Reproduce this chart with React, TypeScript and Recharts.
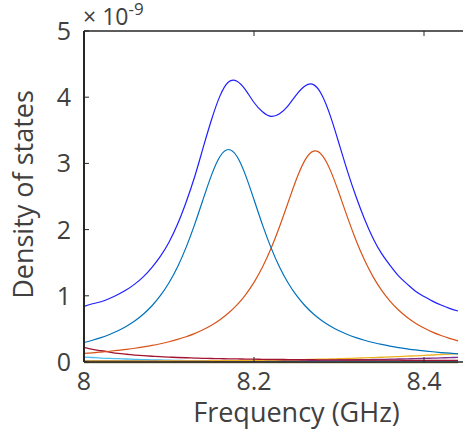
import React from 'react';
import { LineChart, Line, XAxis, YAxis, ReferenceLine } from 'recharts';

const freq = [8.00,8.01,8.02,8.03,8.04,8.05,8.06,8.07,8.08,8.09,8.10,8.11,8.12,8.13,8.14,8.15,8.16,8.17,8.18,8.19,8.20,8.21,8.22,8.23,8.24,8.25,8.26,8.27,8.28,8.29,8.30,8.31,8.32,8.33,8.34,8.35,8.36,8.37,8.38,8.39,8.40,8.41,8.42,8.43,8.44];

const total = [0.84,0.88,0.91,0.96,1.02,1.09,1.18,1.29,1.43,1.60,1.81,2.08,2.41,2.79,3.23,3.66,4.02,4.23,4.24,4.11,3.92,3.78,3.71,3.75,3.87,4.04,4.17,4.19,4.03,3.71,3.30,2.88,2.50,2.16,1.87,1.64,1.46,1.30,1.18,1.07,0.99,0.92,0.86,0.81,0.77];

const mode1 = [0.294,0.328,0.368,0.416,0.472,0.541,0.623,0.725,0.850,1.005,1.198,1.436,1.728,2.072,2.452,2.823,3.104,3.210,3.104,2.823,2.452,2.072,1.728,1.436,1.198,1.005,0.850,0.725,0.623,0.541,0.472,0.416,0.368,0.328,0.294,0.265,0.240,0.218,0.199,0.182,0.168,0.155,0.143,0.133,0.123];

const mode2 = [0.130,0.139,0.150,0.162,0.176,0.191,0.208,0.228,0.250,0.276,0.306,0.341,0.381,0.429,0.487,0.555,0.638,0.739,0.862,1.015,1.202,1.434,1.713,2.042,2.405,2.764,3.050,3.186,3.126,2.891,2.552,2.184,1.839,1.539,1.289,1.085,0.920,0.785,0.676,0.586,0.513,0.451,0.400,0.356,0.319];

const mode3 = [0.22,0.19,0.17,0.15,0.13,0.117,0.105,0.095,0.087,0.08,0.074,0.068,0.064,0.06,0.056,0.053,0.05,0.048,0.046,0.044,0.042,0.041,0.039,0.038,0.037,0.036,0.035,0.034,0.033,0.032,0.031,0.03,0.03,0.029,0.028,0.028,0.027,0.027,0.026,0.026,0.025,0.025,0.024,0.024,0.024];

const mode4 = [0.075,0.068,0.06,0.055,0.05,0.045,0.04,0.036,0.033,0.03,0.027,0.025,0.022,0.021,0.019,0.018,0.017,0.016,0.015,0.015,0.014,0.014,0.013,0.013,0.012,0.012,0.012,0.011,0.011,0.011,0.011,0.011,0.01,0.01,0.01,0.01,0.01,0.01,0.01,0.01,0.01,0.01,0.01,0.01,0.01];

const mode5 = [0.012,0.012,0.012,0.012,0.013,0.013,0.013,0.014,0.014,0.015,0.015,0.016,0.016,0.017,0.018,0.019,0.02,0.021,0.022,0.023,0.025,0.026,0.028,0.03,0.032,0.034,0.037,0.04,0.043,0.046,0.05,0.054,0.058,0.062,0.067,0.072,0.077,0.082,0.088,0.094,0.1,0.106,0.113,0.12,0.127];

const mode6 = [0.008,0.008,0.009,0.009,0.009,0.01,0.01,0.01,0.011,0.011,0.012,0.012,0.013,0.013,0.014,0.014,0.015,0.016,0.016,0.017,0.018,0.019,0.02,0.021,0.022,0.023,0.024,0.026,0.027,0.029,0.03,0.032,0.034,0.036,0.038,0.04,0.042,0.045,0.048,0.051,0.054,0.058,0.062,0.066,0.07];

const mode7 = [0.005,0.005,0.005,0.005,0.005,0.005,0.005,0.005,0.005,0.005,0.005,0.005,0.005,0.005,0.005,0.005,0.005,0.005,0.005,0.005,0.005,0.005,0.005,0.005,0.005,0.005,0.005,0.005,0.005,0.005,0.005,0.005,0.005,0.005,0.005,0.005,0.005,0.005,0.005,0.005,0.005,0.005,0.005,0.005,0.005];

const xTicks = [8, 8.2, 8.4];
const yTicks = [0, 1, 2, 3, 4, 5];

const data = freq.map((f, i) => ({
  f,
  total: total[i],
  m1: mode1[i],
  m2: mode2[i],
  m3: mode3[i],
  m4: mode4[i],
  m5: mode5[i],
  m6: mode6[i],
  m7: mode7[i],
}));

const FONT = '"Open Sans", "Noto Sans", sans-serif';
const TEXT = '#404040';
const AXIS = '#262626';
const PLOT_LEFT = 84;
const PLOT_TOP = 31;
const PLOT_BOTTOM = 362;

const YTick = (props: any) => {
  const { y, payload } = props;
  return (
    <g>
      <line x1={PLOT_LEFT} x2={PLOT_LEFT + 5} y1={y} y2={y} stroke={AXIS} strokeWidth={1} />
      <text x={PLOT_LEFT - 13} y={y} dy={9} textAnchor="end" fill={TEXT} fontSize={25} fontFamily={FONT}>
        {payload.value}
      </text>
    </g>
  );
};

const XTick = (props: any) => {
  const { x, payload } = props;
  return (
    <g>
      <line x1={x} x2={x} y1={PLOT_BOTTOM} y2={PLOT_BOTTOM - 5} stroke={AXIS} strokeWidth={1} />
      <line x1={x} x2={x} y1={PLOT_TOP} y2={PLOT_TOP + 5} stroke={AXIS} strokeWidth={1} />
      <text x={x} y={PLOT_BOTTOM + 28} textAnchor="middle" fill={TEXT} fontSize={25} fontFamily={FONT}>
        {payload.value}
      </text>
    </g>
  );
};

const YLabel = (props: any) => {
  const vb = props.viewBox || { x: 0, y: PLOT_TOP, width: PLOT_LEFT, height: PLOT_BOTTOM - PLOT_TOP };
  const cy = vb.y + vb.height / 2 - 2;
  const cx = 33;
  return (
    <text x={cx} y={cy} transform={`rotate(-90 ${cx} ${cy})`} textAnchor="middle" fill={TEXT} fontSize={27} fontFamily={FONT}>
      Density of states
    </text>
  );
};

const XLabel = (props: any) => {
  const vb = props.viewBox || { x: PLOT_LEFT, y: PLOT_BOTTOM, width: 425, height: 72 };
  const cx = vb.x + vb.width / 2;
  return (
    <text x={cx} y={PLOT_BOTTOM + 60} textAnchor="middle" fill={TEXT} fontSize={27} fontFamily={FONT}>
      Frequency (GHz)
    </text>
  );
};

export default function App() {
  return (
    <div style={{ position: 'absolute', left: 0, top: 0, width: 463, height: 434, overflow: 'hidden', background: '#fff' }}>
      <LineChart width={520} height={434} data={data} margin={{ top: PLOT_TOP, right: 11, bottom: 0, left: 0 }}>
        <XAxis
          dataKey="f"
          type="number"
          domain={[8, 8.5]}
          ticks={xTicks}
          allowDataOverflow
          height={72}
          tickLine={false}
          axisLine={{ stroke: AXIS, strokeWidth: 1.5 }}
          tick={<XTick />}
          interval={0}
          label={{ content: <XLabel /> }}
        />
        <YAxis
          type="number"
          domain={[0, 5]}
          ticks={yTicks}
          width={PLOT_LEFT}
          tickLine={false}
          axisLine={{ stroke: AXIS, strokeWidth: 2 }}
          tick={<YTick />}
          interval={0}
          label={{ content: <YLabel /> }}
        />
        <ReferenceLine y={5} stroke={AXIS} strokeWidth={1.5} />
        <Line dataKey="m7" stroke="#86793f" strokeWidth={3} dot={false} isAnimationActive={false} />
        <Line dataKey="m4" stroke="#4DBEEE" strokeWidth={1.3} dot={false} isAnimationActive={false} type="natural" />
        <Line dataKey="m6" stroke="#7E2F8E" strokeWidth={1.3} dot={false} isAnimationActive={false} type="natural" />
        <Line dataKey="m5" stroke="#EDB120" strokeWidth={1.3} dot={false} isAnimationActive={false} type="natural" />
        <Line dataKey="m3" stroke="#A2142F" strokeWidth={1.3} dot={false} isAnimationActive={false} type="natural" />
        <Line dataKey="m2" stroke="#D95319" strokeWidth={1.2} dot={false} isAnimationActive={false} type="natural" />
        <Line dataKey="m1" stroke="#0072BD" strokeWidth={1.2} dot={false} isAnimationActive={false} type="natural" />
        <Line dataKey="total" stroke="#2020ff" strokeWidth={1.2} dot={false} isAnimationActive={false} type="natural" />
      </LineChart>
      <svg width={200} height={32} style={{ position: 'absolute', left: 0, top: 0 }}>
        <text x={PLOT_LEFT - 1} y={25} fill={TEXT} fontSize={23} fontFamily={FONT}>
          × 10
          <tspan dy={-10} fontSize={17}>-9</tspan>
        </text>
      </svg>
    </div>
  );
}
